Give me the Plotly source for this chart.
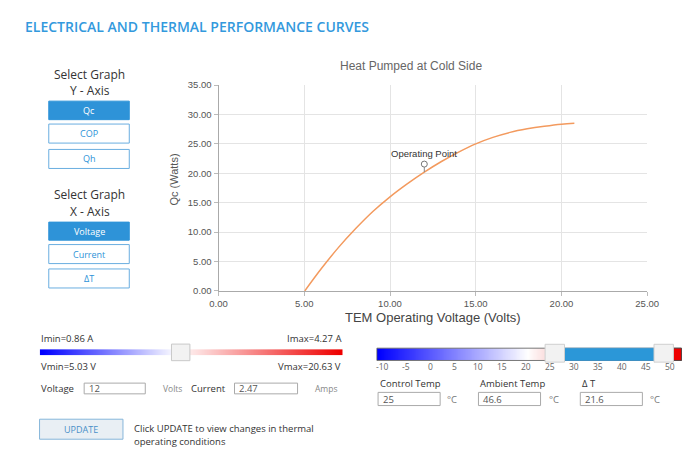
import numpy as np
import plotly.graph_objects as go

W, H = 699, 453

# ---------------- data ----------------
voltage = [5.03, 6, 7, 8, 9, 10, 11, 12, 13, 14, 15, 16, 17, 18, 19, 20, 20.75]
qc = [0.0, 3.8, 7.4, 10.6, 13.5, 16.0, 18.2, 20.2, 22.0, 23.6, 25.0, 26.1, 26.95, 27.55, 28.0, 28.35, 28.5]
op_voltage = 12
op_current = 2.47
x_ticks = [0, 5, 10, 15, 20, 25]
y_ticks = [0, 5, 10, 15, 20, 25, 30, 35]
y_buttons = ["Qc", "COP", "Qh"]
x_buttons = ["Voltage", "Current", "ΔT"]
imin, imax, vmin, vmax = 0.86, 4.27, 5.03, 20.63
temp_ticks = [-10, -5, 0, 5, 10, 15, 20, 25, 30, 35, 40, 45, 50]
control_temp, ambient_temp, delta_t = 25, 46.6, 21.6

BLUE = "#2e93d8"
UI_FONT = "Open Sans"
CH_FONT = "Liberation Sans"


def px(x):
    return x / W


def py(y):
    return 1 - y / H


shapes = []
annotations = []


def rect(x0, y0, x1, y1, fill="rgba(0,0,0,0)", line="#aaa", lw=1):
    shapes.append(dict(type="rect", xref="paper", yref="paper", x0=px(x0), x1=px(x1),
                       y0=py(y1), y1=py(y0), fillcolor=fill, line=dict(color=line, width=lw),
                       layer="above"))


def text(x, y, t, size=10, color="#333", anchor="left", family=UI_FONT, weight=None):
    f = dict(size=size, color=color, family=family)
    if weight:
        f["weight"] = weight
    annotations.append(dict(xref="paper", yref="paper", x=px(x), y=py(y), text=t,
                            showarrow=False, xanchor=anchor, yanchor="middle", font=f))


fig = go.Figure()

# main curve
fig.add_trace(go.Scatter(x=voltage, y=qc, mode="lines", line=dict(color="#f39a5e", width=1.5, shape="spline"),
                         hoverinfo="skip", showlegend=False))

# operating point pin
op_qc = float(np.interp(op_voltage, voltage, qc))
shapes.append(dict(type="line", xref="x", yref="y", xsizemode="pixel", ysizemode="pixel",
                   xanchor=op_voltage, yanchor=op_qc, x0=0, x1=0, y0=0, y1=5,
                   line=dict(color="#888", width=1)))
shapes.append(dict(type="circle", xref="x", yref="y", xsizemode="pixel", ysizemode="pixel",
                   xanchor=op_voltage, yanchor=op_qc, x0=-3, x1=3, y0=5, y1=11,
                   line=dict(color="#777", width=1), fillcolor="white"))
annotations.append(dict(xref="x", yref="y", x=op_voltage, y=op_qc, yshift=19, text="Operating Point",
                        showarrow=False, xanchor="center", yanchor="middle",
                        font=dict(size=9.5, color="#333", family=CH_FONT)))

# gradient slider bars (heatmaps on hidden axes)
N = 60
grad = list(range(N))
fig.add_trace(go.Heatmap(z=[grad], xaxis="x2", yaxis="y2", showscale=False, zsmooth="best", hoverinfo="skip",
                         colorscale=[[0, "#0000ff"], [0.45, "#ffffff"], [1, "#ee0000"]]))
fig.add_trace(go.Heatmap(z=[grad], xaxis="x3", yaxis="y3", showscale=False, zsmooth="best", hoverinfo="skip",
                         colorscale=[[0, "#0000ff"], [0.9, "#ffffff"], [1, "#fbe0e0"]]))

# ---------- header ----------
text(14, 21, "ELECTRICAL AND THERMAL PERFORMANCE CURVES", size=14, color="#3399dd", weight=600)

# ---------- chart titles ----------
text(414, 62, "Heat Pumped at Cold Side", size=12, color="#666", anchor="center", family=CH_FONT)
text(437, 319, "TEM Operating Voltage (Volts)", size=13, color="#444", anchor="center", family=CH_FONT)
annotations.append(dict(xref="paper", yref="paper", x=px(170), y=py(178), text="Qc (Watts)", textangle=-90,
                        showarrow=False, xanchor="center", yanchor="middle",
                        font=dict(size=11, color="#555", family=CH_FONT)))

# ---------- left selection panel ----------
text(83, 70, "Select Graph", size=12, anchor="center")
text(83, 86.5, "Y - Axis", size=12, anchor="center")
ybtn_y = [(97.5, 116.5), (121, 140.5), (147, 166.5)]
for i, (lab, (a, b)) in enumerate(zip(y_buttons, ybtn_y)):
    sel = i == 0
    rect(41, a, 124, b, fill=BLUE if sel else "white", line=BLUE if sel else "#6aaee0")
    text(82.5, (a + b) / 2, lab, size=9, color="white" if sel else BLUE, anchor="center")

text(83, 193.5, "Select Graph", size=12, anchor="center")
text(83, 210.5, "X - Axis", size=12, anchor="center")
xbtn_y = [(221.5, 240), (244.5, 264), (269.5, 289)]
for i, (lab, (a, b)) in enumerate(zip(x_buttons, xbtn_y)):
    sel = i == 0
    rect(41, a, 124, b, fill=BLUE if sel else "white", line=BLUE if sel else "#6aaee0")
    text(82.5, (a + b) / 2, lab, size=9, color="white" if sel else BLUE, anchor="center")

# ---------- voltage/current slider ----------
text(31, 340.5, f"Imin={imin:.2f} A", size=9.5)
text(344, 340.5, f"Imax={imax:.2f} A", size=9.5, anchor="right")
text(31, 369.5, f"Vmin={vmin:.2f} V", size=9.5)
text(344, 369.5, f"Vmax={vmax:.2f} V", size=9.5, anchor="right")
rect(167.5, 346.5, 186.5, 363.5, fill="#f2f2f2", line="#c8c8c8")

text(31, 392, "Voltage", size=9.5)
rect(77.5, 386.5, 140.5, 397.5, fill="white", line="#aaa")
text(80, 392, str(op_voltage), size=9.5, color="#555")
text(157, 392, "Volts", size=8.5, color="#888")
text(186, 392, "Current", size=9.5)
rect(232.5, 386.5, 297.5, 397.5, fill="white", line="#aaa")
text(235, 392, f"{op_current:.2f}", size=9.5, color="#555")
text(313, 392, "Amps", size=8.5, color="#888")

rect(31.5, 423.5, 117.5, 444, fill="#e9eff4", line="#86b6da")
text(74.5, 434, "UPDATE", size=9, color="#4a90c8", anchor="center")
text(127, 433.5, "Click UPDATE to view changes in thermal", size=9.5)
text(127, 446, "operating conditions", size=9.5)

# ---------- temperature slider ----------
rect(379.3, 350.7, 693.3, 363.3, line="#555", lw=0.8)
rect(572.7, 350.7, 665, 363.3, fill="#2b97d8", line="#2b97d8", lw=0.5)
rect(685, 350.7, 693.3, 363.3, fill="#ee0000", line="#444", lw=0.8)
rect(552.7, 346.7, 572.7, 365, fill="#f2f2f2", line="#cfcfcf")
rect(665, 346.7, 685, 365, fill="#f2f2f2", line="#cfcfcf")
t0, t1, xa, xb = temp_ticks[0], temp_ticks[-1], 385, 681.7
for t in temp_ticks:
    text(xa + (t - t0) / (t1 - t0) * (xb - xa), 369.5, str(t), size=8.5, color="#666", anchor="center")

for lx, lab, val, cx in [(380.5, "Control Temp", control_temp, 450),
                         (484, "Ambient Temp", ambient_temp, 555),
                         (589, "Δ T", delta_t, 659)]:
    text(lx, 387, lab, size=9.5)
    rect(lx, 396, lx + 64, 409.5, fill="white", line="#aaa")
    text(lx + 3, 403, str(val), size=9.5, color="#555")
    text(cx, 403, "°C", size=9.5, color="#777")

fig.update_layout(
    width=W, height=H, margin=dict(l=0, r=0, t=0, b=0),
    paper_bgcolor="white", plot_bgcolor="white", showlegend=False,
    xaxis=dict(domain=[px(216), px(658)], range=[0, 25], tickvals=x_ticks, tickformat=".2f",
               showgrid=True, gridcolor="#e4e4e4", gridwidth=1, zeroline=False,
               showline=True, linecolor="#aaa", ticks="outside", ticklen=4, tickcolor="#bbb",
               tickfont=dict(size=9.5, color="#555", family=CH_FONT), fixedrange=True),
    yaxis=dict(domain=[py(292), py(81)], range=[0, 35], tickvals=y_ticks, tickformat=".2f",
               showgrid=True, gridcolor="#e4e4e4", gridwidth=1, zeroline=False,
               showline=True, linecolor="#aaa", ticks="outside", ticklen=4, tickcolor="#bbb",
               tickfont=dict(size=9.5, color="#555", family=CH_FONT), fixedrange=True),
    xaxis2=dict(domain=[px(31.7), px(344)], range=[-0.5, N - 0.5], visible=False, anchor="y2"),
    yaxis2=dict(domain=[py(358.3), py(351.7)], range=[-0.5, 0.5], visible=False, anchor="x2"),
    xaxis3=dict(domain=[px(379.3), px(553)], range=[-0.5, N - 0.5], visible=False, anchor="y3"),
    yaxis3=dict(domain=[py(363.3), py(350.7)], range=[-0.5, 0.5], visible=False, anchor="x3"),
    shapes=shapes, annotations=annotations,
)

fig.write_html("out.html", config={"displayModeBar": False},
               post_script="document.body.style.margin='0';document.body.style.overflow='hidden';")
